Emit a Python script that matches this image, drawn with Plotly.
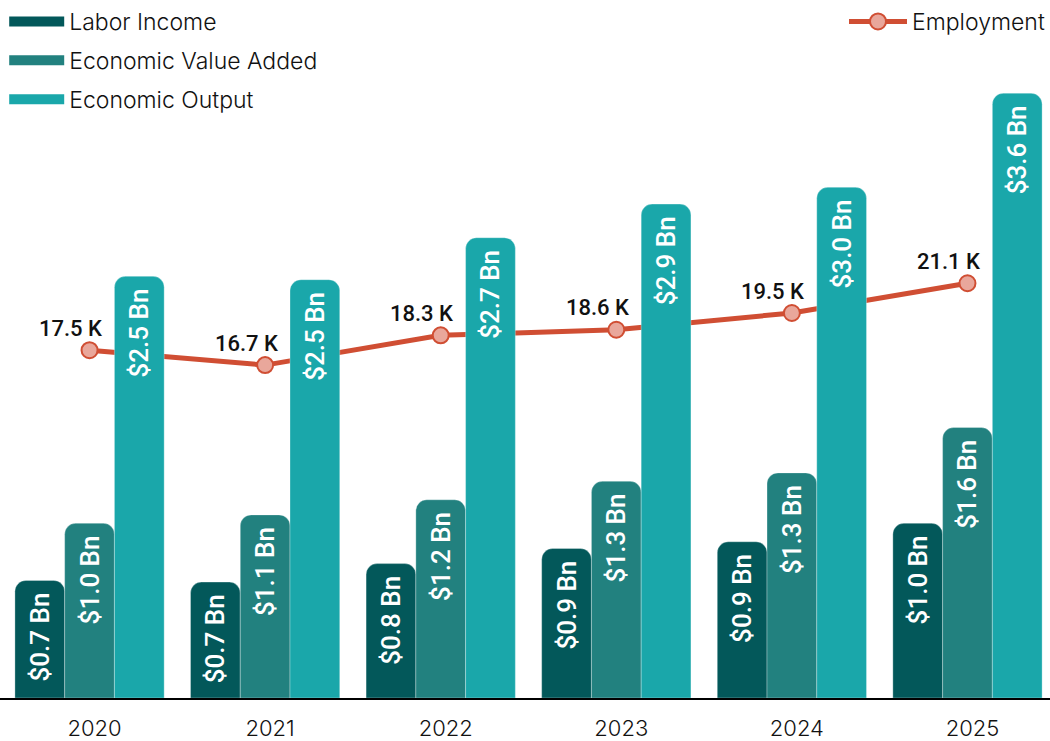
import plotly.graph_objects as go

years = ["2020", "2021", "2022", "2023", "2024", "2025"]
labor_income = [0.70, 0.69, 0.80, 0.89, 0.93, 1.04]
value_added = [1.04, 1.09, 1.18, 1.29, 1.34, 1.61]
economic_output = [2.51, 2.49, 2.74, 2.94, 3.04, 3.60]
employment = [17.5, 16.7, 18.3, 18.6, 19.5, 21.1]

bar_series = [
    ("Labor Income", labor_income, "#03585A"),
    ("Economic Value Added", value_added, "#22817F"),
    ("Economic Output", economic_output, "#1AA7AA"),
]

LEG_FONT = dict(family="Inter", size=23, color="#111111", weight=300)

fig = go.Figure()

# Employment line on primary axis (drawn underneath the bars)
fig.add_trace(go.Scatter(
    x=years, y=employment, name="Employment", yaxis="y",
    mode="lines+markers",
    line=dict(color="#D04E33", width=5),
    marker=dict(size=16, color="#E9A79B", line=dict(color="#D04E33", width=2)),
    legend="legend2", hoverinfo="skip",
))

for name, vals, color in bar_series:
    fig.add_trace(go.Bar(
        x=years, y=vals, name=name, yaxis="y2",
        marker=dict(color=color, line=dict(width=0.6, color="rgba(255,255,255,0.5)")),
        text=[f"${v:.1f} Bn\u00a0\u200a" for v in vals],
        textposition="inside", insidetextanchor="end", textangle=-90,
        textfont=dict(family="Roboto", size=26, color="white", weight=500),
        showlegend=False, hoverinfo="skip",
    ))
    # legend swatch
    fig.add_trace(go.Scatter(
        x=[None], y=[None], mode="lines", name=name, yaxis="y2",
        line=dict(color=color, width=22),
        legendgroup=name, legend="legend",
    ))

for i, v in enumerate(employment):
    fig.add_annotation(
        x=i, y=v, xref="x", yref="y", text=f"{v:.1f} K", showarrow=False,
        xshift=-19, yshift=22,
        font=dict(family="Roboto", size=22, color="#111111", weight=500),
    )

fig.update_layout(
    width=1050, height=741,
    margin=dict(l=0, r=0, t=0, b=43),
    paper_bgcolor="white", plot_bgcolor="white",
    barmode="group", bargap=0.15, bargroupgap=0,
    barcornerradius=11,
    xaxis=dict(
        type="category", range=[-0.51, 5.47],
        showline=True, linecolor="black", linewidth=2,
        ticks="", showgrid=False, ticklabelshift=5, ticklabelstandoff=10,
        tickfont=dict(family="Inter", size=22, color="#111111", weight=300),
    ),
    yaxis=dict(range=[-1.2, 36.33], visible=False, showgrid=False),
    yaxis2=dict(range=[0, 4.155], overlaying="y", visible=False, showgrid=False),
    legend=dict(
        x=0.004, y=1, xanchor="left", yanchor="top",
        orientation="v", tracegroupgap=6, itemwidth=55,
        font=LEG_FONT, bgcolor="rgba(0,0,0,0)",
    ),
    legend2=dict(
        x=1, y=1, xanchor="right", yanchor="top", itemwidth=58,
        font=LEG_FONT, bgcolor="rgba(0,0,0,0)",
    ),
)

fig.write_html("out.html", config={"displayModeBar": False},
               post_script="document.body.style.margin='0px';")
